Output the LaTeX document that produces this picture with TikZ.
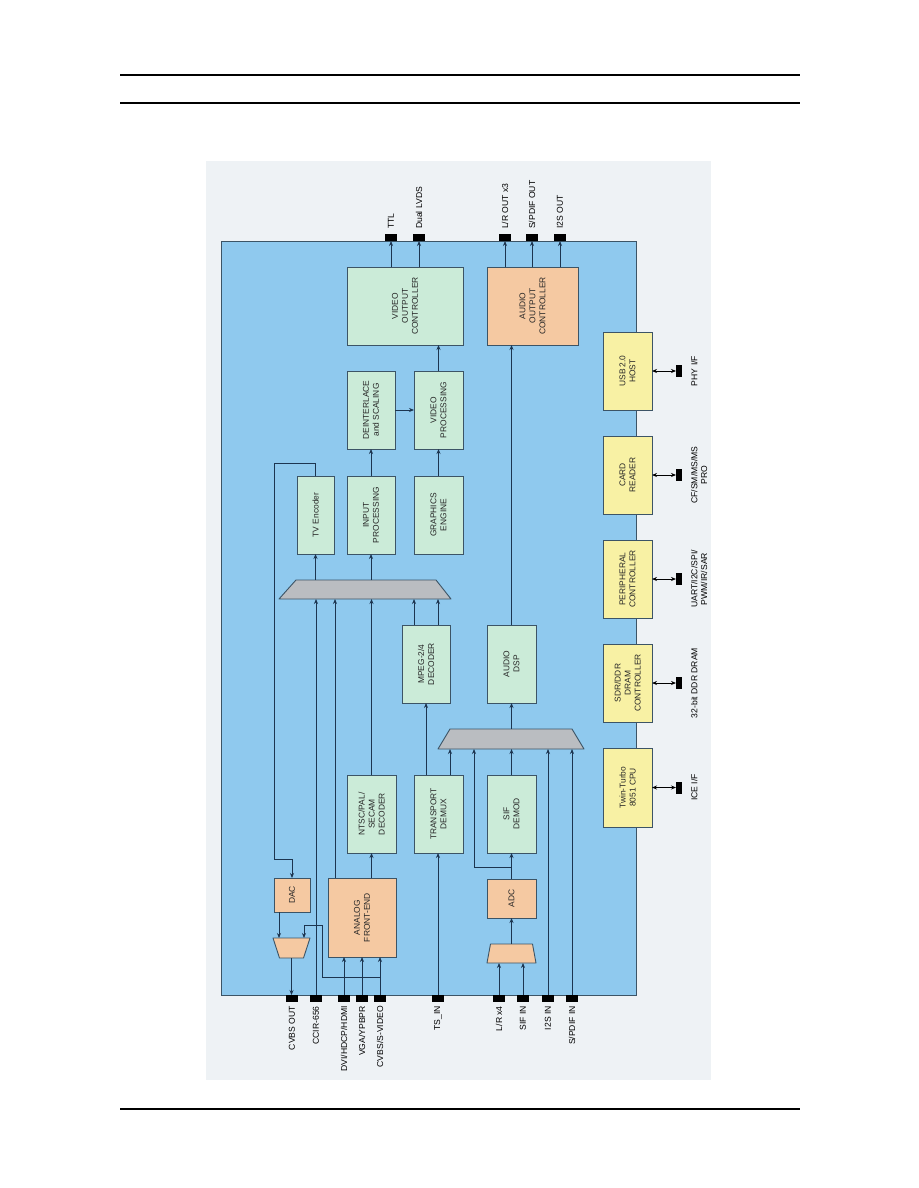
\documentclass[tikz,border=0pt]{standalone}
\usepackage{fontspec}
\setmainfont{Liberation Sans}
\usetikzlibrary{arrows.meta}
\definecolor{chipblue}{HTML}{8FC9EE}
\definecolor{boxgreen}{HTML}{CBEBD8}
\definecolor{boxorange}{HTML}{F5C9A2}
\definecolor{boxyellow}{HTML}{F8F1A4}
\definecolor{muxgray}{HTML}{BABDC1}
\definecolor{panelc}{HTML}{EEF2F5}
\definecolor{wirec}{HTML}{1C3550}
\definecolor{edgec}{HTML}{3C5466}
\begin{document}
\begin{tikzpicture}[x=1pt,y=-1pt,
 blk/.style={draw=edgec, line width=0.9pt, inner sep=0pt, outer sep=0pt},
 txt/.style={rotate=90, align=center, font=\fontsize{8.4}{10}\selectfont, text=black!85, inner sep=0pt},
 pinh/.style={fill=black, minimum width=12pt, minimum height=7pt, inner sep=0pt, outer sep=0pt},
 pinv/.style={fill=black, minimum width=6pt, minimum height=12pt, inner sep=0pt, outer sep=0pt},
 plab/.style={rotate=90, font=\fontsize{8.6}{9.8}\selectfont, inner sep=0pt, align=center},
 arr/.style={draw=wirec, line width=0.8pt, -{Stealth[length=5pt,width=4pt]}},
 biarr/.style={draw=black, line width=0.8pt, {Stealth[length=5pt,width=4pt]}-{Stealth[length=5pt,width=4pt]}},
 muxarea/.style={inner sep=0pt, outer sep=0pt},
 muxdraw/.style={draw=edgec, line width=0.9pt, line join=round},
]
\useasboundingbox (0,0) rectangle (918,1188);
% page rules
\draw[line width=2.4pt] (120,75) -- (800,75);
\draw[line width=1.2pt] (120,103) -- (800,103);
\draw[line width=2pt] (120,1109) -- (800,1109);
% panel and chip
\fill[panelc] (206,161) rectangle (711,1080);
\node[blk, fill=chipblue, minimum width=415pt, minimum height=754pt] (chip) at (428.5,618) {};

% green / orange blocks
\node[blk, fill=boxgreen, minimum width=116pt, minimum height=78pt] (voc) at (405,306) {};
\node[txt] (voc-t) at (voc) {VIDEO\\OUTPUT\\CONTROLLER};
\node[blk, fill=boxorange, minimum width=91pt, minimum height=78pt] (aoc) at (532.5,306) {};
\node[txt] (aoc-t) at (aoc) {AUDIO\\OUTPUT\\CONTROLLER};
\node[blk, fill=boxgreen, minimum width=48pt, minimum height=78pt] (deint) at (371,410) {};
\node[txt] (deint-t) at (deint) {DEINTERLACE\\and SCALING};
\node[blk, fill=boxgreen, minimum width=49pt, minimum height=78pt] (vp) at (438.5,410) {};
\node[txt] (vp-t) at (vp) {VIDEO\\PROCESSING};
\node[blk, fill=boxgreen, minimum width=37pt, minimum height=78pt] (tve) at (315.5,515) {};
\node[txt] (tve-t) at (tve) {TV Encoder};
\node[blk, fill=boxgreen, minimum width=48pt, minimum height=78pt] (inp) at (371,515) {};
\node[txt] (inp-t) at (inp) {INPUT\\PROCESSING};
\node[blk, fill=boxgreen, minimum width=49pt, minimum height=78pt] (gfx) at (438.5,515) {};
\node[txt] (gfx-t) at (gfx) {GRAPHICS\\ENGINE};
\node[blk, fill=boxgreen, minimum width=48pt, minimum height=78pt] (mpeg) at (426,664) {};
\node[txt] (mpeg-t) at (mpeg) {MPEG-2/4\\DECODER};
\node[blk, fill=boxgreen, minimum width=49pt, minimum height=78pt] (adsp) at (511.5,664) {};
\node[txt] (adsp-t) at (adsp) {AUDIO\\DSP};
\node[blk, fill=boxgreen, minimum width=49pt, minimum height=78pt] (ntsc) at (371.5,814) {};
\node[txt] (ntsc-t) at (ntsc) {NTSC/PAL/\\SECAM\\DECODER};
\node[blk, fill=boxgreen, minimum width=49pt, minimum height=78pt] (td) at (438.5,814) {};
\node[txt] (td-t) at (td) {TRANSPORT\\DEMUX};
\node[blk, fill=boxgreen, minimum width=49pt, minimum height=78pt] (sif) at (511.5,814) {};
\node[txt] (sif-t) at (sif) {SIF\\DEMOD};
\node[blk, fill=boxorange, minimum width=36pt, minimum height=34pt] (dac) at (292,895) {};
\node[txt] (dac-t) at (dac) {DAC};
\node[blk, fill=boxorange, minimum width=68pt, minimum height=79pt] (afe) at (362,917.5) {};
\node[txt] (afe-t) at (afe) {ANALOG\\FRONT-END};
\node[blk, fill=boxorange, minimum width=49pt, minimum height=39pt] (adc) at (511.5,898.5) {};
\node[txt] (adc-t) at (adc) {ADC};

% muxes (named areas, trapezoids drawn from their anchors)
\node[muxarea, minimum width=172pt, minimum height=19pt] (vmux) at (365,589.5) {};
\filldraw[muxdraw, fill=muxgray] (vmux.south west) -- (vmux.south east) -- ([xshift=-15pt]vmux.north east) -- ([xshift=17pt]vmux.north west) -- cycle;
\node[muxarea, minimum width=146pt, minimum height=20pt] (amux) at (511,739) {};
\filldraw[muxdraw, fill=muxgray] (amux.south west) -- (amux.south east) -- ([xshift=-12pt]amux.north east) -- ([xshift=12pt]amux.north west) -- cycle;
\node[muxarea, minimum width=49pt, minimum height=19pt] (aimux) at (511.5,953.5) {};
\filldraw[muxdraw, fill=boxorange] (aimux.south west) -- (aimux.south east) -- ([xshift=-3.5pt]aimux.north east) -- ([xshift=3.5pt]aimux.north west) -- cycle;
\node[muxarea, minimum width=37pt, minimum height=20pt] (vomux) at (291.5,948) {};
\filldraw[muxdraw, fill=boxorange] (vomux.north west) -- (vomux.north east) -- ([xshift=-6.5pt]vomux.south east) -- ([xshift=6.5pt]vomux.south west) -- cycle;

% right column
\node[blk, fill=boxyellow, minimum width=49pt, minimum height=78pt] (usb) at (627.5,371) {};
\node[txt] (usb-t) at (usb) {USB 2.0\\HOST};
\node[blk, fill=boxyellow, minimum width=49pt, minimum height=78pt] (card) at (627.5,475) {};
\node[txt] (card-t) at (card) {CARD\\READER};
\node[blk, fill=boxyellow, minimum width=49pt, minimum height=78pt] (peri) at (627.5,579) {};
\node[txt] (peri-t) at (peri) {PERIPHERAL\\CONTROLLER};
\node[blk, fill=boxyellow, minimum width=49pt, minimum height=78pt] (sdr) at (627.5,683) {};
\node[txt] (sdr-t) at (sdr) {SDR/DDR\\DRAM\\CONTROLLER};
\node[blk, fill=boxyellow, minimum width=49pt, minimum height=79pt] (cpu) at (627.5,787.5) {};
\node[txt] (cpu-t) at (cpu) {Twin-Turbo\\8051 CPU};

% pins top
\node[pinh] (ttl) at (391,237.5) {};
\node[pinh] (lvds) at (419,237.5) {};
\node[pinh] (lrout) at (505,237.5) {};
\node[pinh] (spdifout) at (532,237.5) {};
\node[pinh] (i2sout) at (560,237.5) {};
% pins bottom
\node[pinh] (cvbsout) at (292,998.5) {};
\node[pinh] (ccir) at (316,998.5) {};
\node[pinh] (dvi) at (344,998.5) {};
\node[pinh] (vga) at (362,998.5) {};
\node[pinh] (cvbsin) at (380,998.5) {};
\node[pinh] (tsin) at (438,998.5) {};
\node[pinh] (lrin) at (499,998.5) {};
\node[pinh] (sifin) at (523,998.5) {};
\node[pinh] (i2sin) at (548,998.5) {};
\node[pinh] (spdifin) at (572,998.5) {};
% pins right
\node[pinv] (phy) at (679,371) {};
\node[pinv] (cardp) at (679,475) {};
\node[pinv] (perip) at (679,579) {};
\node[pinv] (ddrp) at (679,683) {};
\node[pinv] (icep) at (679,787.5) {};

% pin labels
\node[plab, anchor=west] (ttl-l) at ([yshift=5pt]ttl.north) {TTL};
\node[plab, anchor=west] (lvds-l) at ([yshift=5pt]lvds.north) {Dual LVDS};
\node[plab, anchor=west] (lrout-l) at ([yshift=5pt]lrout.north) {L/R OUT x3};
\node[plab, anchor=west] (spdifout-l) at ([yshift=5pt]spdifout.north) {S/PDIF OUT};
\node[plab, anchor=west] (i2sout-l) at ([yshift=5pt]i2sout.north) {I2S OUT};
\node[plab, anchor=east] (cvbsout-l) at ([yshift=-4pt]cvbsout.south) {CVBS OUT};
\node[plab, anchor=east] (ccir-l) at ([yshift=-4pt]ccir.south) {CCIR-656};
\node[plab, anchor=east] (dvi-l) at ([yshift=-4pt]dvi.south) {DVI/HDCP/HDMI};
\node[plab, anchor=east] (vga-l) at ([yshift=-4pt]vga.south) {VGA/YPBPR};
\node[plab, anchor=east] (cvbsin-l) at ([yshift=-4pt]cvbsin.south) {CVBS/S-VIDEO};
\node[plab, anchor=east] (tsin-l) at ([yshift=-4pt]tsin.south) {TS\_IN};
\node[plab, anchor=east] (lrin-l) at ([yshift=-4pt]lrin.south) {L/R x4};
\node[plab, anchor=east] (sifin-l) at ([yshift=-4pt]sifin.south) {SIF IN};
\node[plab, anchor=east] (i2sin-l) at ([yshift=-4pt]i2sin.south) {I2S IN};
\node[plab, anchor=east] (spdifin-l) at ([yshift=-4pt]spdifin.south) {S/PDIF IN};
\node[plab, anchor=north] (phy-l) at ([xshift=9pt]phy.east) {PHY I/F};
\node[plab, anchor=north] (cardp-l) at ([xshift=9pt]cardp.east) {CF/SM/MS/MS\\PRO};
\node[plab, anchor=north] (perip-l) at ([xshift=9pt]perip.east) {UART/I2C/SPI/\\PWM/IR/SAR};
\node[plab, anchor=north] (ddrp-l) at ([xshift=9pt]ddrp.east) {32-bit DDR DRAM};
\node[plab, anchor=north] (icep-l) at ([xshift=9pt]icep.east) {ICE I/F};

% helper coordinates
\coordinate (tv1) at (274,463);
\coordinate (tv2) at (274,859);
\coordinate (lp1) at (322,977);
\coordinate (lp2) at (322,925);
\coordinate (adcb) at (474,867);

% connectors: outputs
\draw[arr] (voc.north -| ttl) -- (ttl.south);
\draw[arr] (voc.north -| lvds) -- (lvds.south);
\draw[arr] (aoc.north -| lrout) -- (lrout.south);
\draw[arr] (aoc.north -| spdifout) -- (spdifout.south);
\draw[arr] (aoc.north -| i2sout) -- (i2sout.south);
% video path
\draw[arr] (vp.north) -- (vp.north |- voc.south);
\draw[arr] (deint.east) -- (vp.west);
\draw[arr] (inp.north) -- (deint.south);
\draw[arr] (gfx.north) -- (vp.south);
\draw[arr] (tve.north) |- (tv1) -- (tv2) -| (dac.north);
\draw[arr] (vmux.north -| tve) -- (tve.south);
\draw[arr] (vmux.north -| inp) -- (inp.south);
\draw[arr] (ccir.north) -- (ccir.north |- vmux.south);
\draw[arr] ([xshift=-27pt]afe.north) -- ([xshift=-27pt]afe.north |- vmux.south);
\draw[arr] (ntsc.north) -- (ntsc.north |- vmux.south);
\draw[arr] ([xshift=-12pt]mpeg.north) -- ([xshift=-12pt]mpeg.north |- vmux.south);
\draw[arr] ([xshift=12pt]mpeg.north) -- ([xshift=12pt]mpeg.north |- vmux.south);
\draw[arr] ([xshift=-12.5pt]td.north) -- ([xshift=-12.5pt]td.north |- mpeg.south);
\draw[arr] ([xshift=11.5pt]td.north) -- ([xshift=11.5pt]td.north |- amux.south);
\draw[arr] (tsin.north) -- (tsin.north |- td.south);
\draw[arr] (afe.north -| ntsc) -- (ntsc.south);
\draw[arr] (dvi.north) -- (dvi.north |- afe.south);
\draw[arr] (vga.north) -- (vga.north |- afe.south);
\draw[arr] (cvbsin.north) -- (cvbsin.north |- afe.south);
\draw[arr] (cvbsin |- lp1) -- (lp1) -- (lp2) -| ([xshift=12.5pt]vomux.north);
\draw[arr] ([xshift=-13pt]dac.south) -- ([xshift=-13pt]dac.south |- vomux.north);
\draw[arr] (vomux.south) -- (vomux.south |- cvbsout.north);
% audio path
\draw[arr] (aimux.north) -- (adc.south);
\draw[arr] (lrin.north) -- (lrin.north |- aimux.south);
\draw[arr] (sifin.north) -- (sifin.north |- aimux.south);
\draw[arr] (adc.north) -- (sif.south);
\draw[arr] (adc.north |- adcb) -- (adcb) -- (adcb |- amux.south);
\draw[arr] (sif.north) -- (sif.north |- amux.south);
\draw[arr] (i2sin.north) -- (i2sin.north |- amux.south);
\draw[arr] (spdifin.north) -- (spdifin.north |- amux.south);
\draw[arr] (amux.north -| adsp) -- (adsp.south);
\draw[arr] (adsp.north) -- (adsp.north |- aoc.south);
% peripherals
\draw[biarr] (usb.east) -- (phy.west);
\draw[biarr] (card.east) -- (cardp.west);
\draw[biarr] (peri.east) -- (perip.west);
\draw[biarr] (sdr.east) -- (ddrp.west);
\draw[biarr] (cpu.east) -- (icep.west);
\end{tikzpicture}
\end{document}
